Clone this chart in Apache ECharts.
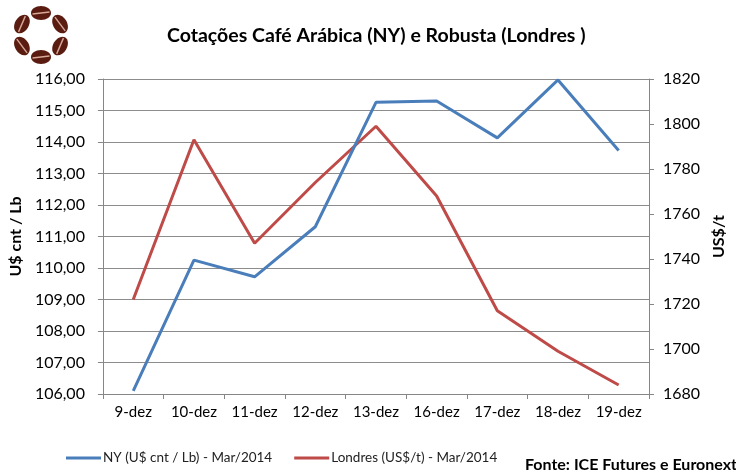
<!DOCTYPE html>
<html><head><meta charset="utf-8">
<script src="https://cdn.jsdelivr.net/npm/echarts@6/dist/echarts.min.js"></script>
<style>html,body{margin:0;padding:0;background:#fff}#c{width:736px;height:470px}</style>
</head><body><div id="c"></div>
<script>
const categories = ['9-dez','10-dez','11-dez','12-dez','13-dez','16-dez','17-dez','18-dez','19-dez'];
const nyValues = [106.10, 110.25, 109.72, 111.31, 115.26, 115.30, 114.13, 115.97, 113.73];
const londresValues = [1722, 1793, 1747, 1774, 1799, 1768, 1717, 1699, 1684];
const nyName = 'NY (U$ cnt / Lb) - Mar/2014';
const londresName = 'Londres (US$/t) - Mar/2014';
const titleText = 'Cotações Café Arábica (NY) e Robusta (Londres )';
const leftAxisName = 'U$ cnt / Lb';
const rightAxisName = 'US$/t';
const sourceText = 'Fonte: ICE Futures e Euronext';

const FONT = 'Lato';
const chart = echarts.init(document.getElementById('c'), null, {renderer: 'canvas'});

// logo: ring of coffee beans
const beans = [];
const cx = 41, cy = 35, R = 22;
for (let i = 0; i < 6; i++) {
  const ang = (-90 + i * 60) * Math.PI / 180;
  const bx = cx + R * Math.cos(ang), by = cy + R * Math.sin(ang);
  const rot = -(ang + Math.PI / 2);
  beans.push({
    type: 'group', x: bx, y: by, rotation: rot,
    children: [
      {type: 'ellipse', shape: {cx: 0, cy: 0, rx: 10, ry: 7}, style: {fill: '#5a1c10'}},
      {type: 'line', shape: {x1: -8.5, y1: 1, x2: 8.5, y2: -1}, style: {stroke: '#d8a898', lineWidth: 1.4}}
    ]
  });
}

const option = {
  backgroundColor: '#fff',
  animation: false,
  title: {
    text: titleText, left: 162, top: 21,
    textStyle: {fontFamily: FONT, fontSize: 19.5, fontWeight: 'bold', color: '#000'}
  },
  legend: {
    left: 61, top: 446, itemGap: 22, itemWidth: 35, itemHeight: 3, icon: 'rect',
    textStyle: {fontFamily: FONT, fontSize: 13.5, color: '#222', padding: [0, 0, 0, -3]},
    data: [nyName, londresName]
  },
  grid: {left: 95, right: 87, top: 79, bottom: 76, containLabel: false},
  xAxis: {
    type: 'category', data: categories, boundaryGap: true,
    axisLine: {lineStyle: {color: '#868686', width: 1}},
    axisTick: {show: true, alignWithLabel: false, length: 5, lineStyle: {color: '#868686'}},
    axisLabel: {fontFamily: FONT, fontSize: 15, color: '#000', margin: 11}
  },
  yAxis: [
    {
      type: 'value', min: 106, max: 116, interval: 1, position: 'left',
      name: leftAxisName, nameLocation: 'middle', nameGap: 69,
      nameTextStyle: {fontFamily: FONT, fontSize: 16, fontWeight: 'bold', color: '#000'},
      axisLine: {show: true, lineStyle: {color: '#868686'}},
      axisTick: {show: true, length: 5, lineStyle: {color: '#868686'}},
      axisLabel: {fontFamily: FONT, fontSize: 16, color: '#000', margin: 18,
        formatter: v => v.toFixed(2).replace('.', ',')},
      splitLine: {show: true, lineStyle: {color: '#8c8c8c', width: 1}}
    },
    {
      type: 'value', min: 1680, max: 1820, interval: 20, position: 'right',
      name: rightAxisName, nameLocation: 'middle', nameGap: 60,
      nameTextStyle: {fontFamily: FONT, fontSize: 16, fontWeight: 'bold', color: '#000'},
      axisLine: {show: true, lineStyle: {color: '#868686'}},
      axisTick: {show: true, length: 5, lineStyle: {color: '#868686'}},
      axisLabel: {fontFamily: FONT, fontSize: 16, color: '#000', margin: 14,
        formatter: v => String(v)},
      splitLine: {show: false}
    }
  ],
  series: [
    {
      name: nyName, type: 'line', yAxisIndex: 0, data: nyValues,
      symbol: 'none', lineStyle: {color: '#4a7ebb', width: 3}, itemStyle: {color: '#4a7ebb'}, z: 3
    },
    {
      name: londresName, type: 'line', yAxisIndex: 1, data: londresValues,
      symbol: 'none', lineStyle: {color: '#be4b48', width: 3}, itemStyle: {color: '#be4b48'}, z: 2
    }
  ],
  graphic: [
    {type: 'group', children: beans},
    {type: 'text', left: 525, top: 457, style: {text: sourceText, fontFamily: FONT, fontSize: 16, fontWeight: 'bold', fill: '#000'}}
  ]
};
chart.setOption(option);
</script></body></html>
